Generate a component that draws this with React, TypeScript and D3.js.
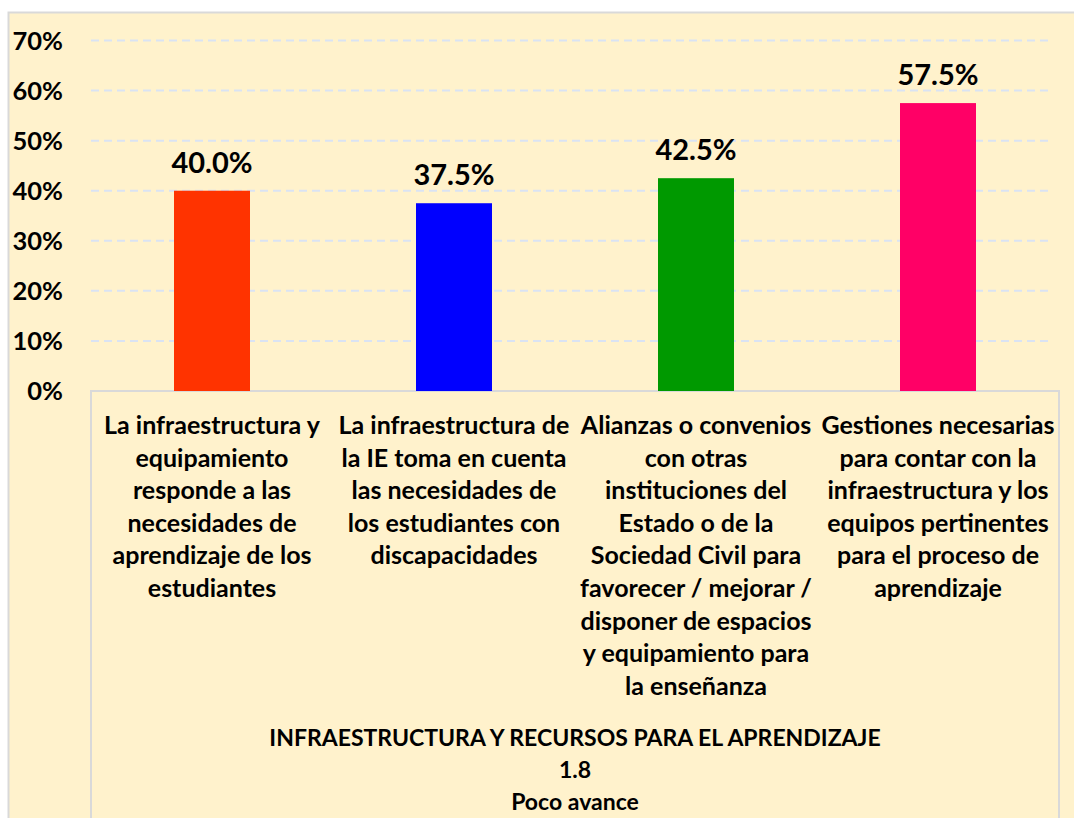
import React, { useEffect, useRef } from "react";
import * as d3 from "d3";

// Datos del gráfico
const categories = ["c1", "c2", "c3", "c4"];
const values = [0.4, 0.375, 0.425, 0.575];
const barColors = ["#FF3300", "#0000FF", "#009900", "#FF0066"];
const yTicks = [0, 0.1, 0.2, 0.3, 0.4, 0.5, 0.6, 0.7];
const categoryLines = [
  ["La infraestructura y", "equipamiento", "responde a las", "necesidades de", "aprendizaje de los", "estudiantes"],
  ["La infraestructura de", "la IE toma en cuenta", "las necesidades de", "los estudiantes con", "discapacidades"],
  [
    "Alianzas o convenios",
    "con otras",
    "instituciones del",
    "Estado o de la",
    "Sociedad Civil para",
    "favorecer / mejorar /",
    "disponer de espacios",
    "y equipamiento para",
    "la enseñanza",
  ],
  ["Gestiones necesarias", "para contar con la", "infraestructura y los", "equipos pertinentes", "para el proceso de", "aprendizaje"],
];
const footerLines = ["INFRAESTRUCTURA Y RECURSOS PARA EL APRENDIZAJE", "1.8", "Poco avance"];

const FONT = "Lato, 'Open Sans', sans-serif";

const App = () => {
  const svgRef = useRef<SVGSVGElement | null>(null);
  const width = 1074;
  const height = 818;

  useEffect(() => {
    const svg = d3.select(svgRef.current);
    svg.selectAll("*").remove();

    const plot = { left: 91, right: 1059, top: 40.5, bottom: 391 };

    // Fondo del gráfico
    svg
      .append("rect")
      .attr("x", 8.5)
      .attr("y", 12.5)
      .attr("width", 1100)
      .attr("height", 900)
      .attr("fill", "#FFF2CC")
      .attr("stroke", "#D9D9D9")
      .attr("stroke-width", 2);

    const x = d3.scaleBand().domain(categories).range([plot.left, plot.right]).paddingInner(0).paddingOuter(0);
    const y = d3.scaleLinear().domain([0, 0.7]).range([plot.bottom, plot.top]);

    // Líneas de cuadrícula
    svg
      .append("g")
      .selectAll("line")
      .data(yTicks.slice(1))
      .enter()
      .append("line")
      .attr("x1", plot.left)
      .attr("x2", plot.right - 6)
      .attr("y1", (d) => y(d))
      .attr("y2", (d) => y(d))
      .attr("stroke", "#DAE3F3")
      .attr("stroke-width", 2)
      .attr("stroke-dasharray", "8,5");

    // Etiquetas del eje Y
    svg
      .append("g")
      .selectAll("text")
      .data(yTicks)
      .enter()
      .append("text")
      .attr("x", 63)
      .attr("y", (d) => y(d))
      .attr("dy", "0.36em")
      .attr("text-anchor", "end")
      .style("font-family", FONT)
      .style("font-size", "25.5px")
      .style("font-weight", "700")
      .style("fill", "#000")
      .text((d) => d3.format(".0%")(d));

    // Tabla de categorías
    svg
      .append("rect")
      .attr("x", plot.left)
      .attr("y", plot.bottom)
      .attr("width", plot.right - plot.left)
      .attr("height", 500)
      .attr("fill", "none")
      .attr("stroke", "#D9D9D9")
      .attr("stroke-width", 2);

    // Barras
    const barW = 76;
    svg
      .append("g")
      .selectAll("rect")
      .data(values)
      .enter()
      .append("rect")
      .attr("x", (d, i) => (x(categories[i]) as number) + x.bandwidth() / 2 - barW / 2)
      .attr("y", (d) => y(d))
      .attr("width", barW)
      .attr("height", (d) => plot.bottom - y(d))
      .attr("fill", (d, i) => barColors[i]);

    // Valores sobre las barras
    svg
      .append("g")
      .selectAll("text")
      .data(values)
      .enter()
      .append("text")
      .attr("x", (d, i) => (x(categories[i]) as number) + x.bandwidth() / 2)
      .attr("y", (d) => y(d) - 18)
      .attr("text-anchor", "middle")
      .style("font-family", FONT)
      .style("font-size", "29px")
      .style("font-weight", "700")
      .style("fill", "#000")
      .text((d) => d3.format(".1%")(d));

    // Etiquetas de categorías
    const catG = svg.append("g");
    categoryLines.forEach((lines, i) => {
      const cx = (x(categories[i]) as number) + x.bandwidth() / 2;
      catG
        .append("g")
        .selectAll("text")
        .data(lines)
        .enter()
        .append("text")
        .attr("x", cx)
        .attr("y", (d, j) => 425 + j * 32.6)
        .attr("dy", "0.36em")
        .attr("text-anchor", "middle")
        .style("font-family", FONT)
        .style("font-size", "25px")
        .style("font-weight", "700")
        .style("fill", "#000")
        .text((d) => d);
    });

    // Título inferior
    svg
      .append("g")
      .selectAll("text")
      .data(footerLines)
      .enter()
      .append("text")
      .attr("x", (plot.left + plot.right) / 2)
      .attr("y", (d, j) => 738 + j * 32)
      .attr("dy", "0.36em")
      .attr("text-anchor", "middle")
      .style("font-family", FONT)
      .style("font-size", "23px")
      .style("font-weight", "700")
      .style("fill", "#000")
      .text((d) => d);
  }, []);

  return (
    <svg
      ref={svgRef}
      width={width}
      height={height}
      style={{ position: "absolute", left: 0, top: 0, background: "#fff" }}
    ></svg>
  );
};

export default App;
